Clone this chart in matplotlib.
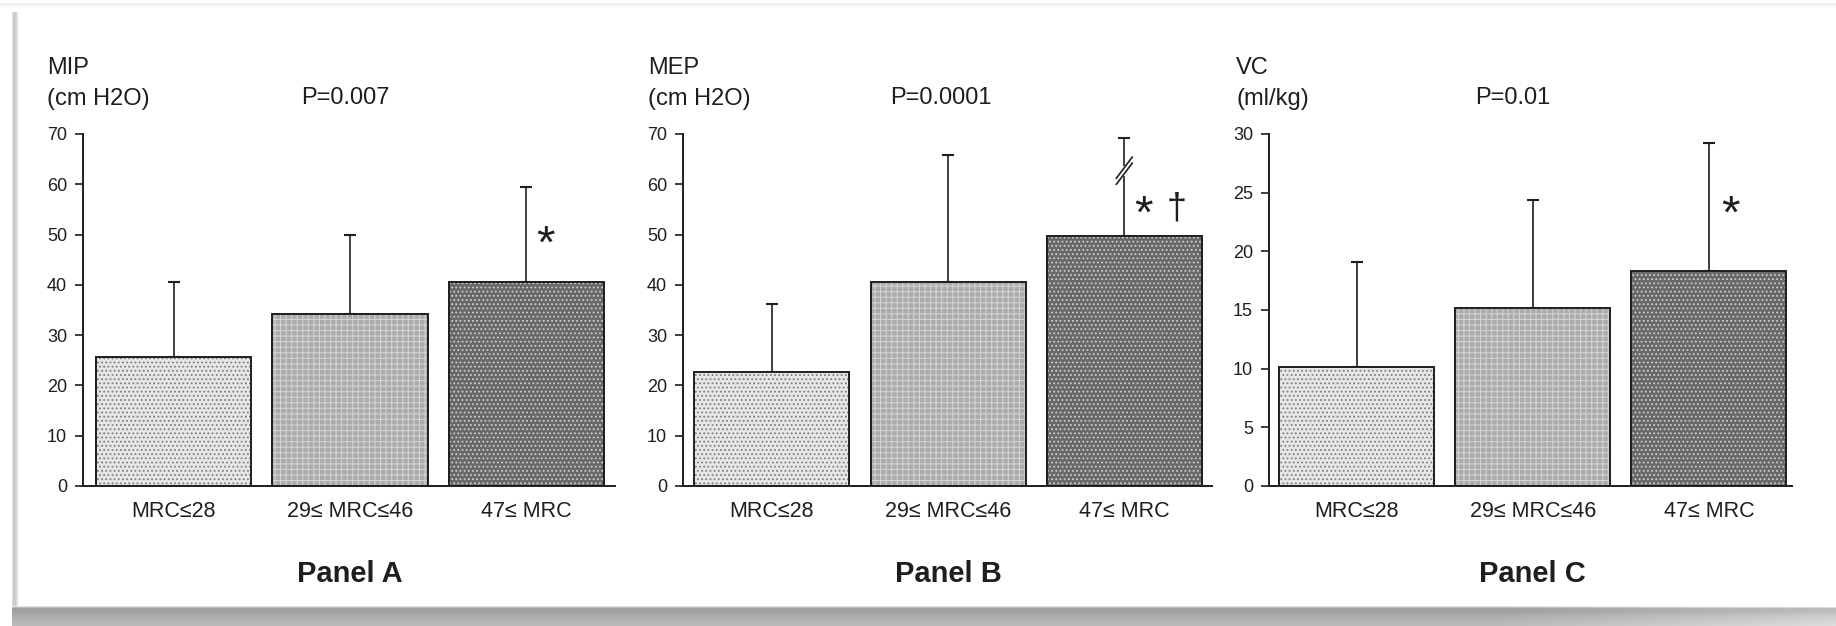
import numpy as np
import matplotlib
matplotlib.use("Agg")
import matplotlib.pyplot as plt
from matplotlib.transforms import blended_transform_factory

plt.rcParams['font.family'] = ['Liberation Sans', 'DejaVu Sans']
plt.rcParams['hatch.linewidth'] = 0.8

# groups and panel texts
groups = ['MRC≤28', '29≤ MRC≤46', '47≤ MRC']
panel_names = ['Panel A', 'Panel B', 'Panel C']
measures = ['MIP', 'MEP', 'VC']
units = ['(cm H2O)', '(cm H2O)', '(ml/kg)']
p_values = ['P=0.007', 'P=0.0001', 'P=0.01']

# mean and SD per MRC group
mip_mean = [25.6, 34.2, 40.5]
mip_sd = [14.9, 15.8, 19.0]
mep_mean = [22.7, 40.5, 49.8]
mep_sd = [13.5, 25.3, 19.5]
vc_mean = [10.15, 15.15, 18.3]
vc_sd = [8.9, 9.25, 10.9]

y_max = [70, 70, 30]
y_step = [10, 10, 5]

# significance marks: (symbol, group position, height)
marks = [
    [('*', 2.11, 49.5)],
    [('*', 2.11, 55.5), ('†', 2.30, 55.5)],
    [('*', 2.125, 23.75)],
]
mep_break = 62.7  # axis break drawn on the last MEP error bar

means = [mip_mean, mep_mean, vc_mean]
sds = [mip_sd, mep_sd, vc_sd]

# bar fills: (face, hatch, hatch colour)
fills = [('#e6e6e6', '....', '#7c7c7c'),
         ('#ababab', '+++', '#d2d2d2'),
         ('#686868', '....', '#d0d0d0')]

# symbol size (pt) and ink centre above the baseline (fraction of size)
sym_style = {'*': (34, 0.44), '†': (26, 0.33)}

ink = '#1e1e1e'
W, H = 1836, 626
fig = plt.figure(figsize=(W / 100, H / 100), dpi=100)

# page frame with a soft shadow
bg = fig.add_axes([0, 0, 1, 1], zorder=-10)
bg.set_xlim(0, W)
bg.set_ylim(H, 0)
bg.axis('off')
band = np.array([0.88, 0.74, 0.64, 0.62, 0.62, 0.63, 0.64, 0.65, 0.66, 0.67,
                 0.68, 0.69, 0.69, 0.70, 0.70, 0.71, 0.71, 0.72, 0.72, 0.73])
fade = np.ones(W)
fade[1500:] = np.linspace(1.0, 1.18, W - 1500)
shadow = np.clip(band[:, None] * fade[None, :], 0, 1)
bg.imshow(shadow, cmap='gray', vmin=0, vmax=1, extent=(12, W, 626, 606),
          aspect='auto', interpolation='bilinear')
side = np.array([[0.86, 0.80, 0.78, 0.82, 0.90, 0.97]])
bg.imshow(side, cmap='gray', vmin=0, vmax=1, extent=(12, 19, 606, 12),
          aspect='auto', interpolation='bilinear')
bg.plot([0, W], [3.5, 3.5], color='#f1f1f1', lw=2)

ax_left = [83, 683, 1269]
ax_right = [615, 1212, 1792]
ax_bottom, ax_top = 486, 134
xlims = [(-0.514, 2.503), (-0.505, 2.498), (-0.498, 2.472)]
name_offset = [-36, -35, -33]
p_offset = [218, 207, 206]
x = np.arange(len(groups))

for i in range(3):
    ax = fig.add_axes([ax_left[i] / W, (H - ax_bottom) / H,
                       (ax_right[i] - ax_left[i]) / W, (ax_bottom - ax_top) / H])
    ax.set_facecolor('none')
    for j in range(3):
        face, hatch, hcol = fills[j]
        ax.bar(x[j], means[i][j], width=0.88, color=face, edgecolor=hcol,
               hatch=hatch, linewidth=0, zorder=2)
    ax.bar(x, means[i], width=0.88, fill=False, edgecolor=ink,
           linewidth=1.4, zorder=3)
    ax.errorbar(x, means[i], yerr=[np.zeros(3), sds[i]], fmt='none',
                ecolor=ink, elinewidth=1.2, capsize=4.5, capthick=1.5, zorder=1)

    if i == 1:
        xb, yb = x[2], mep_break
        ax.plot([xb, xb], [yb - 0.6, yb + 0.6], color='white', lw=3, zorder=4)
        for off in (-0.6, 0.6):
            ax.plot([xb - 0.045, xb + 0.045], [yb + off - 2.1, yb + off + 2.1],
                    color=ink, lw=1.2, zorder=5)

    for sym, sx, sy in marks[i]:
        size, lift = sym_style[sym]
        ax.annotate(sym, (sx, sy), xytext=(0, -lift * size),
                    textcoords='offset points', ha='center', va='baseline',
                    fontsize=size, color=ink)

    ax.set_xlim(*xlims[i])
    ax.set_ylim(0, y_max[i])
    ax.set_yticks(np.arange(0, y_max[i] + 1, y_step[i]))
    ax.set_xticks(x)
    ax.set_xticklabels(groups, fontsize=15.5, color=ink)
    ax.tick_params(axis='x', length=0, pad=11)
    ax.tick_params(axis='y', length=5.5, width=1.2, pad=6, labelsize=13,
                   colors=ink)
    for s in ('top', 'right'):
        ax.spines[s].set_visible(False)
    for s in ('left', 'bottom'):
        ax.spines[s].set_color(ink)
        ax.spines[s].set_linewidth(1.4)

    x0 = ax_left[i]
    fig.text((x0 + name_offset[i]) / W, 1 - 68.5 / H, measures[i],
             fontsize=17, color=ink, va='center', ha='left')
    fig.text((x0 + name_offset[i]) / W, 1 - 98.5 / H, units[i],
             fontsize=17, color=ink, va='center', ha='left')
    fig.text((x0 + p_offset[i]) / W, 1 - 98.5 / H, p_values[i],
             fontsize=17, color=ink, va='center', ha='left')

    tr = blended_transform_factory(ax.transData, fig.transFigure)
    ax.text(1, 1 - 574 / H, panel_names[i], transform=tr, ha='center',
            va='center', fontsize=21, fontweight='bold', color=ink)

fig.savefig('out.png', dpi=100, facecolor='white')
